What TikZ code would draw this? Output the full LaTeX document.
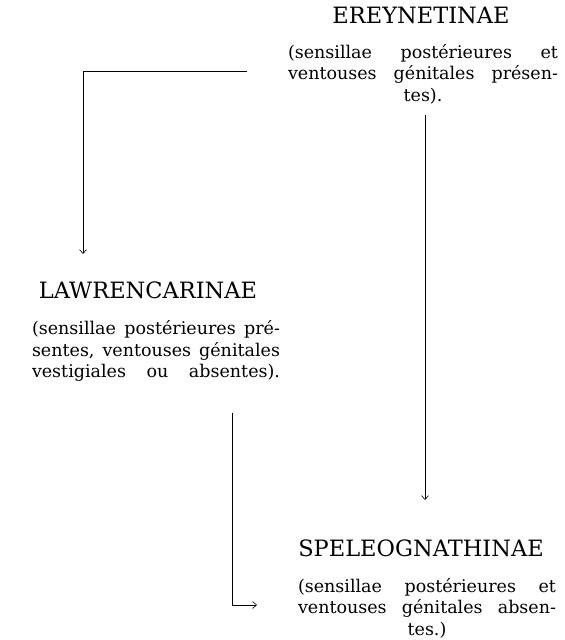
\documentclass[tikz,border=0pt]{standalone}
\usepackage{fontspec}
\setmainfont{DejaVu Serif}
\usetikzlibrary{arrows.meta}
\newcommand{\jline}[1]{\leavevmode\hbox to \linewidth{#1}}
\begin{document}
\begin{tikzpicture}[x=1pt,y=-1pt,
  title/.style={inner sep=0pt,font=\fontsize{22.5}{26}\selectfont},
  para/.style={inner sep=0pt,align=center,font=\fontsize{17.5}{21.5}\selectfont},
  conn/.style={line width=0.6pt},
  arr/.style={conn,-{Straight Barb[length=4pt,width=7pt]}}]
\useasboundingbox (0,0) rectangle (565,640);
% titles and descriptions
\node[title] (ere) at (421,15) {EREYNETINAE};
\node[para,text width=270pt] (erep) at (423,74) {\jline{(sensillae\hfill postérieures\hfill et}\\\jline{ventouses\hfill génitales\hfill présen-}\\tes).};
\node[title] (law) at (148,290) {LAWRENCARINAE};
\node[para,text width=248pt] (lawp) at (156,351) {\jline{(sensillae\hfill postérieures\hfill pré-}\\\jline{sentes,\hfill ventouses\hfill génitales}\\\jline{vestigiales\hfill ou\hfill absentes).}};
\node[title] (spe) at (421,548) {SPELEOGNATHINAE};
\node[para,text width=258pt] (spep) at (427,608) {\jline{(sensillae\hfill postérieures\hfill et}\\\jline{ventouses\hfill génitales\hfill absen-}\\tes.)};
% connectors
\coordinate (a1) at (247,71);
\coordinate (a2) at (83,71);
\coordinate (a3) at (83,254);
\draw[arr] (a1) -- (a2) -- (a3);
\coordinate (b1) at (425,115);
\coordinate (b2) at (425,500);
\draw[arr] (b1) -- (b2);
\coordinate (c1) at (232,413);
\coordinate (c2) at (232,605);
\coordinate (c3) at (257,605);
\draw[arr] (c1) -- (c2) -- (c3);
\end{tikzpicture}
\end{document}
